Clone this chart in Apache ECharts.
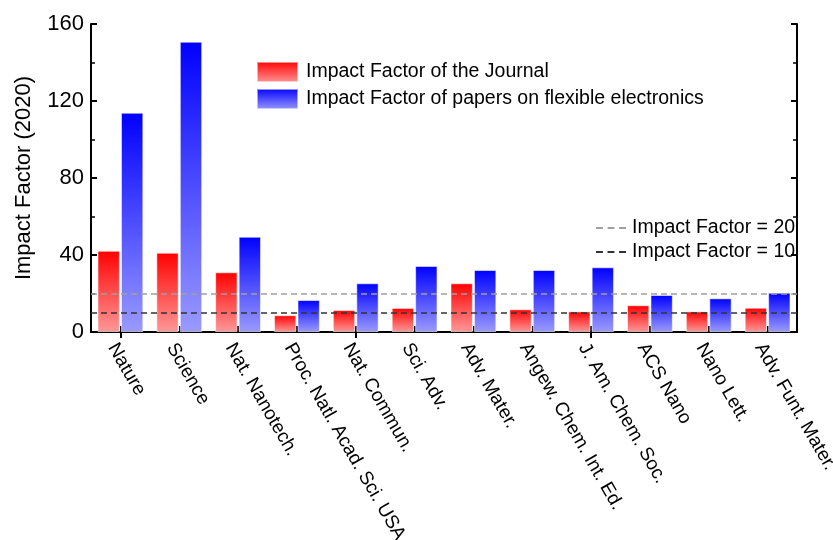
<!DOCTYPE html>
<html>
<head>
<meta charset="utf-8">
<script src="https://cdn.jsdelivr.net/npm/echarts@6/dist/echarts.min.js"></script>
<style>html,body{margin:0;padding:0;background:#fff}#c{width:833px;height:540px}</style>
</head>
<body>
<div id="c"></div>
<script>
const journals = ['Nature','Science','Nat. Nanotech.','Proc. Natl. Acad. Sci. USA','Nat. Commun.','Sci. Adv.','Adv. Mater.','Angew. Chem. Int. Ed.','J. Am. Chem. Soc.','ACS Nano','Nano Lett.','Adv. Funt. Mater.'];
const journalIF = [42.2, 41.2, 31.0, 8.7, 11.4, 12.5, 25.3, 11.8, 10.7, 13.9, 10.7, 12.6];
const flexibleIF = [113.9, 150.8, 49.5, 16.6, 25.3, 34.3, 32.2, 32.2, 33.6, 19.2, 17.5, 20.4];
const refLevels = [20, 10];
const refNames = ['Impact Factor = 20', 'Impact Factor = 10'];
const yTicks = [0, 40, 80, 120, 160];

const FONT = 'Liberation Sans, Arial, sans-serif';
const chart = echarts.init(document.getElementById('c'), null, {renderer:'canvas'});

function grad(top, bottom){
  return new echarts.graphic.LinearGradient(0,0,0,1,[{offset:0,color:top},{offset:1,color:bottom}]);
}
const redGrad = grad('#ff0000', '#ff9898');
const blueGrad = grad('#0000ff', '#9a9aff');
const refColors = ['#a0a0a0', '#333333'];
const dashIcon = 'path://M0,0h6v1.6h-6z M10,0h6v1.6h-6z M20,0h6v1.6h-6z';

const axisLine = {show:true, lineStyle:{color:'#000', width:2}};
const tickIn = {show:true, inside:true, length:6, lineStyle:{color:'#000', width:2}};

chart.setOption({
  animation:false,
  textStyle:{fontFamily:FONT},
  grid:{left:91, right:36, top:24, bottom:208, containLabel:false, outerBoundsMode:'none'},
  legend:[
    {
      data:['Impact Factor of the Journal','Impact Factor of papers on flexible electronics'],
      icon:'rect', padding:0,
      orient:'vertical', left:256, top:61, itemWidth:41, itemHeight:20, itemGap:5,
      textStyle:{fontSize:19.5, color:'#000', fontFamily:FONT, padding:[0,0,0,3]}
    },
    {
      data:refNames.map(n=>({name:n, icon:dashIcon})),
      padding:0,
      orient:'vertical', left:596, top:218, itemWidth:30, itemHeight:20, itemGap:4,
      textStyle:{fontSize:19.5, color:'#000', fontFamily:FONT, padding:[0,0,0,1]}
    }
  ],
  xAxis:[
    {
      type:'category', data:journals, position:'bottom',
      axisLine:axisLine,
      axisTick:Object.assign({alignWithLabel:true}, tickIn),
      axisLabel:{rotate:-60, margin:8, fontSize:19, color:'#000', fontFamily:FONT, interval:0, verticalAlign:'top'}
    },
    {
      type:'category', data:journals, position:'top',
      axisLine:axisLine,
      axisTick:Object.assign({alignWithLabel:true}, tickIn),
      axisLabel:{show:false}
    }
  ],
  yAxis:[
    {
      type:'value', min:yTicks[0], max:yTicks[yTicks.length-1], interval:40, position:'left',
      name:'Impact Factor (2020)', nameLocation:'middle', nameGap:56,
      nameTextStyle:{fontSize:22, color:'#000', fontFamily:FONT},
      axisLine:axisLine,
      axisTick:tickIn,
      minorTick:{show:true, splitNumber:2, length:4, lineStyle:{color:'#000', width:1.5}},
      splitLine:{show:false},
      axisLabel:{fontSize:22, color:'#000', margin:7, fontFamily:FONT}
    },
    {
      type:'value', min:yTicks[0], max:yTicks[yTicks.length-1], interval:40, position:'right',
      axisLine:axisLine,
      axisTick:tickIn,
      minorTick:{show:true, splitNumber:2, length:4, lineStyle:{color:'#000', width:1.5}},
      splitLine:{show:false},
      axisLabel:{show:false}
    }
  ],
  series:[
    {
      name:'Impact Factor of the Journal', type:'bar', data:journalIF,
      barWidth:'38%', barGap:'5%',
      itemStyle:{color:redGrad, borderColor:'rgba(255,255,255,0.55)', borderWidth:1}
    },
    {
      name:'Impact Factor of papers on flexible electronics', type:'bar', data:flexibleIF,
      barWidth:'38%', barGap:'5%',
      itemStyle:{color:blueGrad, borderColor:'rgba(255,255,255,0.55)', borderWidth:1}
    },
    ...refLevels.map((v,i)=>({
      name:refNames[i], type:'line', data:[], symbol:'none',
      lineStyle:{color:refColors[i], type:[6,4], width:1.5},
      itemStyle:{color:refColors[i]},
      markLine:{
        silent:true, symbol:'none', label:{show:false},
        lineStyle:{color:refColors[i], type:[6,4], width:1.5},
        data:[{yAxis:v}]
      },
      z:5
    }))
  ]
});
</script>
</body>
</html>
